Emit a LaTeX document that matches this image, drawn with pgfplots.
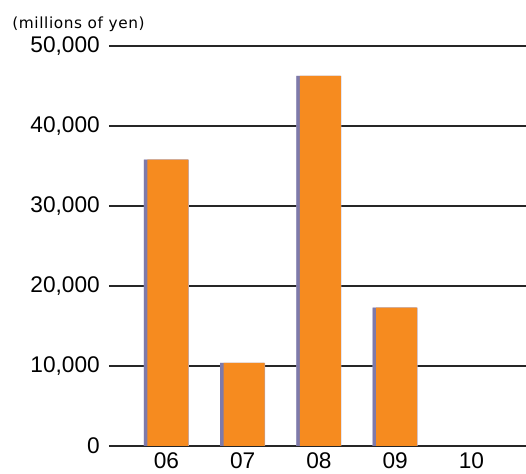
\documentclass[border=0pt]{standalone}
\usepackage{fontspec}
\setmainfont{Liberation Sans}
\newfontfamily\titlefont[LetterSpace=4]{DejaVu Sans}
\usepackage{pgfplots}
\pgfplotsset{compat=1.18}
\definecolor{barorange}{HTML}{F68B1F}
\definecolor{barshadow}{HTML}{7E7AAA}
\definecolor{barfringe}{HTML}{B8B4D4}
\begin{document}
\begin{tikzpicture}
\useasboundingbox (0,0) rectangle (394.5pt,355.5pt);
\begin{axis}[
  at={(81.75pt,21pt)}, anchor=south west,
  scale only axis, width=312.75pt, height=300pt,
  xmin=-0.754, xmax=4.715, ymin=0, ymax=50000,
  xtick={0,1,2,3,4}, xticklabels={06,07,08,09,10},
  ytick={0,10000,20000,30000,40000,50000},
  scaled y ticks=false,
  /pgf/number format/.cd, 1000 sep={,}, assume math mode=true, /pgfplots/.cd,
  axis line style={draw=none},
  major tick length=0pt, tick style={draw=none},
  ymajorgrids, grid style={black!85, line width=1.3pt},
  tick label style={font=\fontsize{17pt}{20pt}\selectfont, inner sep=0pt},
  yticklabel style={anchor=east},
  xticklabel style={anchor=north},
  yticklabel shift=6.75pt,
  xticklabel shift=5pt,
  clip=false,
]
\addplot[ybar, bar width=33.75pt, bar shift=0pt, fill=barfringe, draw=none]
  coordinates {(0,35800) (1,10400) (2,46250) (3,17300)};
\addplot[ybar, bar width=33pt, bar shift=-0.375pt, fill=barshadow, draw=none]
  coordinates {(0,35800) (1,10400) (2,46250) (3,17300)};
\addplot[ybar, bar width=30.75pt, bar shift=1.125pt, fill=barorange, draw=none]
  coordinates {(0,35800) (1,10400) (2,46250) (3,17300)};
\end{axis}
\node[anchor=west, inner sep=0pt, font=\titlefont\fontsize{11.5pt}{13pt}\selectfont] at (9pt,337.5pt) {(millions of yen)};
\end{tikzpicture}
\end{document}
